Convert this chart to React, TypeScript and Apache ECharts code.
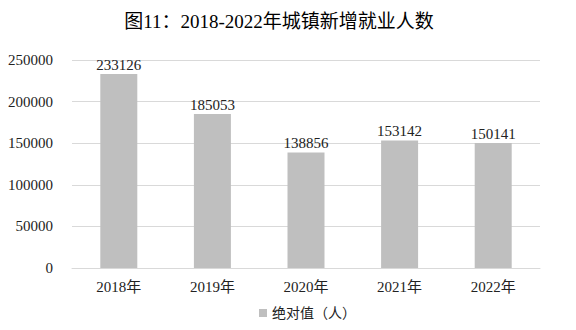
import React, { useEffect, useRef } from "react";
import * as echarts from "echarts";

const categories = ["2018年", "2019年", "2020年", "2021年", "2022年"];
const values = [233126, 185053, 138856, 153142, 150141];
const seriesName = "绝对值（人）";
const titleText = "图11：2018-2022年城镇新增就业人数";

const serif = "'Liberation Serif', 'Times New Roman', 'Noto Sans CJK SC', serif";

export default function App() {
  const ref = useRef<HTMLDivElement>(null);
  useEffect(() => {
    const chart = echarts.init(ref.current!, null, { renderer: "svg" });
    chart.setOption({
      animation: false,
      backgroundColor: "#ffffff",
      title: {
        text: titleText,
        left: 274,
        textAlign: "center",
        top: 7,
        textStyle: { fontFamily: serif, fontSize: 19, fontWeight: "normal", color: "#000" },
      },
      legend: {
        data: [seriesName],
        bottom: 5,
        left: 254,
        icon: "rect",
        itemWidth: 8,
        itemHeight: 8,
        itemGap: 4,
        textStyle: { fontFamily: serif, fontSize: 14, color: "#222" },
      },
      grid: { left: 72, right: 36, top: 60, bottom: 62, containLabel: false },
      xAxis: {
        type: "category",
        data: categories,
        axisLine: { lineStyle: { color: "#d9d9d9" } },
        axisTick: { show: false },
        axisLabel: { fontFamily: serif, fontSize: 15, color: "#222", margin: 11 },
      },
      yAxis: {
        type: "value",
        min: 0,
        max: 250000,
        interval: 50000,
        axisLine: { show: false },
        axisTick: { show: false },
        splitLine: { lineStyle: { color: "#d9d9d9" } },
        axisLabel: {
          fontFamily: serif,
          fontSize: 15,
          color: "#222",
          margin: 19,
          formatter: (v: number) => String(v),
        },
      },
      series: [
        {
          name: seriesName,
          type: "bar",
          data: values,
          barWidth: 37,
          itemStyle: { color: "#bfbfbf" },
          label: {
            show: true,
            position: "top",
            distance: 2,
            fontFamily: serif,
            fontSize: 15,
            color: "#222",
          },
        },
      ],
    });
    return () => chart.dispose();
  }, []);
  return <div ref={ref} style={{ width: 576, height: 330, position: "absolute", left: 0, top: 0 }} />;
}
